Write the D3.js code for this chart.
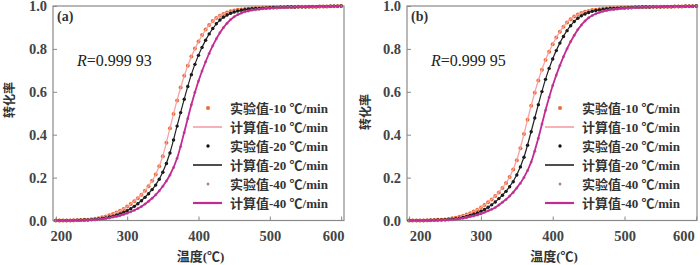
<!DOCTYPE html>
<meta charset="utf-8">
<head>
<style>
  body { margin: 0; background: #fff; }
  svg text { font-family: "Liberation Serif", "Noto Sans CJK SC", serif; }
  .tick text { font-weight: bold; fill: #444; font-size: 14.5px; }
  .legend text { font-size: 13px; fill: #333; font-weight: bold; }
</style>
<script src="https://d3js.org/d3.v7.min.js"></script>
</head>
<body>
<svg id="chart" width="700" height="265"></svg>
<script>

// temperature grid of the measured points (℃)
var expT = [200,205,210,215,220,225,230,235,240,245,250,255,260,265,270,275,280,285,290,295,
            300,305,310,315,320,325,330,335,340,345,350,355,360,365,370,375,380,385,390,395,
            400,405,410,415,420,425,430,435,440,445,450,455,460,465,470,475,480,485,490,495,
            500,505,510,515,520,525,530,535,540,545,550,555,560,565,570,575,580,585,590,595,600];
// temperature grid of the calculated curves (℃)
var calcT = [200,210,220,230,240,250,260,270,280,290,300,310,320,330,340,350,360,370,380,390,
             400,410,420,430,440,450,460,470,480,490,500,510,520,530,540,550,560,570,580,590,600];

// panel (a)
var expA10 = [0,0,0,0,0,0.001,0.001,0.002,0.003,0.004,0.006,0.008,0.011,0.015,0.019,0.024,0.030,0.037,0.045,0.054,
              0.065,0.077,0.090,0.104,0.120,0.139,0.160,0.185,0.215,0.253,0.300,0.362,0.430,0.497,0.560,0.620,0.675,0.722,0.765,0.802,
              0.835,0.865,0.890,0.912,0.930,0.944,0.955,0.963,0.970,0.975,0.979,0.982,0.984,0.986,0.987,0.988,0.989,0.990,0.991,0.992,
              0.992,0.993,0.993,0.994,0.994,0.995,0.995,0.995,0.996,0.996,0.996,0.997,0.997,0.997,0.998,0.998,0.998,0.999,0.999,0.999,1.000];
var expA20 = [0,0,0,0,0,0,0.001,0.001,0.002,0.003,0.004,0.005,0.007,0.009,0.012,0.016,0.020,0.025,0.031,0.038,
              0.046,0.055,0.066,0.078,0.092,0.108,0.125,0.144,0.165,0.192,0.225,0.266,0.315,0.375,0.440,0.503,0.565,0.625,0.680,0.728,
              0.770,0.807,0.840,0.870,0.895,0.917,0.935,0.948,0.958,0.966,0.972,0.977,0.980,0.983,0.985,0.987,0.988,0.989,0.990,0.991,
              0.992,0.993,0.993,0.994,0.994,0.995,0.995,0.995,0.996,0.996,0.996,0.997,0.997,0.997,0.998,0.998,0.998,0.999,0.999,0.999,1.000];
var expA40 = [0,0,0,0,0,0,0,0,0.001,0.002,0.003,0.004,0.005,0.007,0.009,0.012,0.016,0.019,0.023,0.028,
              0.034,0.041,0.048,0.056,0.065,0.077,0.090,0.104,0.120,0.139,0.160,0.184,0.212,0.247,0.290,0.345,0.410,0.476,0.540,0.598,
              0.650,0.697,0.740,0.779,0.815,0.847,0.875,0.900,0.920,0.937,0.950,0.960,0.967,0.973,0.977,0.981,0.983,0.985,0.987,0.989,
              0.990,0.991,0.992,0.993,0.993,0.994,0.994,0.995,0.995,0.996,0.996,0.997,0.997,0.997,0.998,0.998,0.998,0.999,0.999,0.999,1.000];
var calcA10 = [0,0,0,0.001,0.003,0.006,0.011,0.019,0.030,0.045,0.065,0.090,0.121,0.160,0.214,0.301,0.431,0.561,0.674,0.764,
               0.834,0.889,0.929,0.955,0.969,0.978,0.984,0.987,0.989,0.991,0.992,0.993,0.994,0.995,0.996,0.996,0.997,0.998,0.998,0.999,1.000];
var calcA20 = [0,0,0,0.001,0.002,0.004,0.007,0.012,0.020,0.031,0.046,0.066,0.093,0.126,0.166,0.226,0.316,0.441,0.566,0.681,
               0.771,0.841,0.895,0.934,0.957,0.971,0.980,0.985,0.988,0.990,0.992,0.993,0.994,0.995,0.996,0.996,0.997,0.998,0.998,0.999,1.000];
var calcA40 = [0,0,0,0,0.001,0.003,0.005,0.009,0.016,0.023,0.034,0.048,0.065,0.090,0.120,0.160,0.212,0.290,0.411,0.540,
               0.650,0.740,0.815,0.875,0.920,0.950,0.967,0.977,0.983,0.987,0.990,0.992,0.993,0.994,0.995,0.996,0.997,0.998,0.998,0.999,1.000];

// panel (b)
var expB10 = [0,0,0,0,0,0.001,0.001,0.002,0.003,0.004,0.005,0.007,0.010,0.013,0.017,0.022,0.028,0.034,0.042,0.050,
              0.061,0.072,0.085,0.098,0.114,0.131,0.152,0.175,0.203,0.238,0.281,0.337,0.403,0.470,0.535,0.596,0.653,0.703,0.748,0.787,
              0.822,0.853,0.880,0.903,0.923,0.938,0.951,0.960,0.967,0.973,0.977,0.981,0.983,0.985,0.987,0.988,0.989,0.990,0.990,0.991,
              0.992,0.993,0.993,0.994,0.994,0.995,0.995,0.995,0.996,0.996,0.996,0.997,0.997,0.997,0.998,0.998,0.998,0.999,0.999,0.999,1.000];
var expB20 = [0,0,0,0,0,0,0.001,0.001,0.002,0.003,0.004,0.005,0.006,0.008,0.011,0.014,0.018,0.023,0.029,0.035,
              0.043,0.051,0.062,0.073,0.086,0.102,0.118,0.136,0.157,0.181,0.212,0.250,0.295,0.351,0.414,0.478,0.540,0.601,0.658,0.709,
              0.753,0.792,0.827,0.858,0.885,0.908,0.928,0.943,0.954,0.963,0.970,0.975,0.979,0.982,0.984,0.986,0.988,0.989,0.990,0.991,
              0.991,0.992,0.993,0.994,0.994,0.995,0.995,0.995,0.996,0.996,0.996,0.997,0.997,0.997,0.998,0.998,0.998,0.999,0.999,0.999,1.000];
var expB40 = [0,0,0,0,0,0,0,0,0.001,0.001,0.002,0.003,0.004,0.006,0.008,0.011,0.014,0.018,0.021,0.026,
              0.031,0.038,0.045,0.052,0.061,0.072,0.085,0.098,0.114,0.131,0.152,0.174,0.201,0.233,0.273,0.323,0.384,0.450,0.514,0.575,
              0.629,0.678,0.723,0.763,0.801,0.834,0.864,0.890,0.912,0.930,0.945,0.956,0.964,0.971,0.975,0.979,0.982,0.984,0.986,0.988,
              0.990,0.991,0.992,0.993,0.993,0.994,0.994,0.995,0.995,0.996,0.996,0.997,0.997,0.997,0.998,0.998,0.998,0.999,0.999,0.999,1.000];
var calcB10 = [0,0,0,0.001,0.003,0.005,0.010,0.017,0.028,0.042,0.061,0.085,0.114,0.152,0.203,0.282,0.404,0.536,0.654,0.749,
               0.823,0.881,0.924,0.951,0.967,0.977,0.983,0.987,0.989,0.990,0.992,0.993,0.994,0.995,0.996,0.996,0.997,0.998,0.998,0.999,1.000];
var calcB20 = [0,0,0,0.001,0.002,0.004,0.006,0.011,0.018,0.029,0.043,0.062,0.087,0.118,0.158,0.213,0.296,0.415,0.541,0.659,
               0.754,0.828,0.886,0.928,0.955,0.970,0.979,0.984,0.988,0.990,0.991,0.993,0.994,0.995,0.996,0.996,0.997,0.998,0.998,0.999,1.000];
var calcB40 = [0,0,0,0,0.001,0.002,0.004,0.008,0.014,0.021,0.031,0.045,0.061,0.085,0.114,0.152,0.201,0.273,0.385,0.514,
               0.629,0.723,0.801,0.864,0.912,0.945,0.964,0.975,0.982,0.986,0.990,0.992,0.993,0.994,0.995,0.996,0.997,0.998,0.998,0.999,1.000];

var xTicks = [200, 300, 400, 500, 600];
var yTicks = [0, 0.2, 0.4, 0.6, 0.8, 1.0];
var legendLabels = ["实验值-10 ℃/min", "计算值-10 ℃/min", "实验值-20 ℃/min",
                    "计算值-20 ℃/min", "实验值-40 ℃/min", "计算值-40 ℃/min"];

var panels = [
    {tag: "(a)", R: "0.999 93", exp: [expA10, expA20, expA40], calc: [calcA10, calcA20, calcA40],
     x0: 53, x1: 344, dom: [196, 604], firstDx: 5, lastDx: -8, ylabX: 10, ylabY: 100, legX: 230},
    {tag: "(b)", R: "0.999 95", exp: [expB10, expB20, expB40], calc: [calcB10, calcB20, calcB40],
     x0: 407, x1: 697, dom: [197, 601], firstDx: 11, lastDx: -13, ylabX: 366, ylabY: 112, legX: 582}
];

// 10, 20, 40 ℃/min
var expColor  = ["#ec6b30", "#111111", "#a8849c"];
var calcColor = ["#f7a3a8", "#222222", "#c42a93"];
var calcWidth = [1.3, 1.2, 1.8];
var expR = [2.0, 1.7, 1.5];

var plotTop = 6, plotBottom = 220.5;
var svg = d3.select("#chart");

panels.forEach(function(p){
    var x = d3.scaleLinear().domain(p.dom).range([p.x0, p.x1]);
    var y = d3.scaleLinear().domain([0, 1]).range([plotBottom, plotTop]);
    var g = svg.append("g");

    // axes (ticks pointing inward)
    var xa = g.append("g").attr("transform", "translate(0," + plotBottom + ")")
        .call(d3.axisBottom(x).tickValues(xTicks).tickSize(-4).tickPadding(10).tickFormat(d3.format("d")));
    xa.selectAll(".tick text").attr("dx", function(d, i){
        if (i == 0) return p.firstDx;
        if (i == xTicks.length - 1) return p.lastDx;
        return 0;
    });
    g.append("g").attr("transform", "translate(" + p.x0 + ",0)")
        .call(d3.axisLeft(y).tickValues(yTicks).tickSize(-4).tickPadding(6).tickFormat(d3.format(".1f")));
    g.selectAll(".domain").remove();
    g.selectAll(".tick line").attr("stroke", "#888");

    g.append("rect")
        .attr("x", p.x0).attr("y", plotTop)
        .attr("width", p.x1 - p.x0).attr("height", plotBottom - plotTop)
        .attr("fill", "none").attr("stroke", "#8a8a8a").attr("stroke-width", 1.2);

    var line = d3.line()
        .x(function(d){ return x(d[0]); })
        .y(function(d){ return y(d[1]); })
        .curve(d3.curveMonotoneX);

    for (var k = 0; k < 3; k++) {
        var pts = expT.map(function(t, i){ return [t, p.exp[k][i]]; });
        g.append("g").selectAll("circle")
            .data(pts).enter().append("circle")
            .attr("cx", function(d){ return x(d[0]); })
            .attr("cy", function(d){ return y(d[1]); })
            .attr("r", expR[k])
            .attr("fill", expColor[k]);
        g.append("path")
            .datum(calcT.map(function(t, i){ return [t, p.calc[k][i]]; }))
            .attr("d", line)
            .attr("fill", "none")
            .attr("stroke", calcColor[k])
            .attr("stroke-width", calcWidth[k]);
    }

    // labels
    g.append("text").attr("x", p.x0 + 4).attr("y", plotTop + 15)
        .style("font-size", "14px").style("font-weight", "bold").attr("fill", "#333")
        .text(p.tag);
    var rt = g.append("text").attr("x", p.x0 + 24).attr("y", 66)
        .style("font-size", "16px").attr("fill", "#222");
    rt.append("tspan").style("font-style", "italic").text("R");
    rt.append("tspan").text("=" + p.R);

    g.append("text")
        .attr("transform", "translate(" + p.ylabX + "," + p.ylabY + ") rotate(-90)")
        .attr("text-anchor", "middle").attr("dy", "0.35em")
        .style("font-size", "12px").style("font-weight", "bold").attr("fill", "#333")
        .text("转化率");
    g.append("text")
        .attr("x", (p.x0 + p.x1) / 2 + 2).attr("y", 261)
        .attr("text-anchor", "middle")
        .style("font-size", "13px").style("font-weight", "bold").attr("fill", "#333")
        .text("温度(℃)");

    // legend
    var leg = g.append("g").attr("class", "legend");
    legendLabels.forEach(function(lab, i){
        var ly = 108 + i * 19;
        var k = Math.floor(i / 2);
        if (i % 2 == 0) {
            leg.append("circle").attr("cx", p.legX - 22).attr("cy", ly).attr("r", expR[k]).attr("fill", expColor[k]);
        } else {
            leg.append("line").attr("x1", p.legX - 37).attr("x2", p.legX - 8)
                .attr("y1", ly).attr("y2", ly)
                .attr("stroke", calcColor[k]).attr("stroke-width", calcWidth[k] + 0.4);
        }
        leg.append("text").attr("x", p.legX).attr("y", ly).attr("dy", "0.35em").text(lab);
    });
});

</script>
</body>
</html>
